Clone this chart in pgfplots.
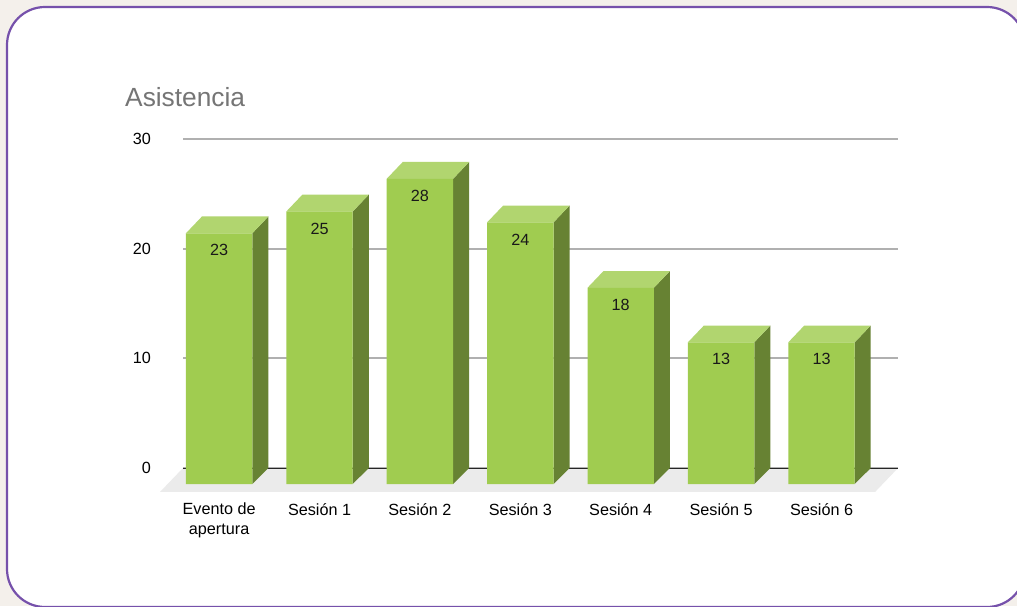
\documentclass[border=0pt]{standalone}
\usepackage{fontspec}
\setmainfont{Liberation Sans}
\usepackage{pgfplots}
\usepackage{pgfplotstable}
\pgfplotsset{compat=1.18}

\definecolor{barfront}{HTML}{A0CC50}
\definecolor{bartop}{HTML}{B1D56F}
\definecolor{barside}{HTML}{678233}
\definecolor{gridgray}{HTML}{B0B0B0}
\definecolor{floorgray}{HTML}{EBEBEB}
\definecolor{titlegray}{HTML}{757575}
\definecolor{cardline}{HTML}{7651AB}
\definecolor{pagebg}{HTML}{F4F0EB}

\pgfplotstableread{
x v
0 23
1 25
2 28
3 24
4 18
5 13
6 13
}\asistencia

% bar geometry in axis units: 100.4pt per category, 10.97pt per y unit
\newcommand{\hw}{0.3307}
\newcommand{\dx}{0.1594}
\newcommand{\dy}{1.4585}

\begin{document}
\begin{tikzpicture}[x=1pt,y=1pt]
\path[use as bounding box] (0,0) rectangle (1017,606);
\clip (0,0) rectangle (1017,606);
\fill[pagebg] (0,0) rectangle (1017,606);
\draw[cardline,line width=2.2pt,fill=white,rounded corners=38pt] (7,-1) rectangle (1025,599);
\begin{axis}[
  at={(183pt,138pt)},
  anchor=south west,
  scale only axis,
  width=715pt,
  height=329pt,
  xmin=-0.36, xmax=6.7616,
  ymin=0, ymax=30,
  clip=false,
  axis line style={draw=none},
  major tick length=0pt,
  ytick={0,10,20,30},
  xtick={0,...,6},
  xticklabels={{Evento de\\apertura},Sesión 1,Sesión 2,Sesión 3,Sesión 4,Sesión 5,Sesión 6},
  ymajorgrids=true,
  grid style={gridgray,line width=1.8pt},
  tick label style={font=\fontsize{16.2}{20}\selectfont},
  /pgf/number format/assume math mode=true,
  yticklabel style={anchor=east,xshift=-32pt,inner sep=0pt},
  xticklabel style={align=center,anchor=north,yshift=-35pt,inner sep=0pt},
  title={Asistencia},
  title style={at={(axis description cs:-0.0811,1.1095)},anchor=west,inner sep=0pt,
    text=titlegray,font=\fontsize{26.3}{30}\selectfont},
]
% floor
\addplot[fill=floorgray,draw=none] coordinates {
  (-0.36,0) (6.7616,0) (6.533,-2.188) (-0.589,-2.188) (-0.36,0)};
\addplot[black!85,line width=0.9pt] coordinates {(-0.36,0) (6.7616,0)};
% side and top faces of each bar
\pgfplotsinvokeforeach{0,...,6}{
  \pgfplotstablegetelem{#1}{v}\of\asistencia
  \pgfmathsetmacro{\ytop}{\pgfplotsretval*0.994-\dy}
  \pgfmathsetmacro{\yback}{\ytop+1.53}
  \pgfmathsetmacro{\xl}{#1-\hw}
  \pgfmathsetmacro{\xr}{#1+\hw}
  \pgfmathsetmacro{\xlb}{\xl+\dx}
  \pgfmathsetmacro{\xrb}{\xr+\dx}
  \addplot[fill=barside,draw=none] coordinates {
    (\xr,-\dy) (\xrb,0) (\xrb,\yback) (\xr,\ytop) (\xr,-\dy)};
  \addplot[fill=bartop,draw=none] coordinates {
    (\xl,\ytop) (\xr,\ytop) (\xrb,\yback) (\xlb,\yback) (\xl,\ytop)};
}
% front faces, pushed down by the depth of the bars
\addplot[ybar,bar width=66.4pt,bar shift=0pt,fill=barfront,draw=none,yshift=-16pt,
  point meta=\thisrow{v},
  nodes near coords,
  nodes near coords align={center},
  every node near coord/.append style={yshift=-17pt,text=black!90,
    font=\fontsize{16.2}{20}\selectfont},
] table[x=x,y expr=\thisrow{v}*0.994] {\asistencia};
\end{axis}
\end{tikzpicture}
\end{document}
